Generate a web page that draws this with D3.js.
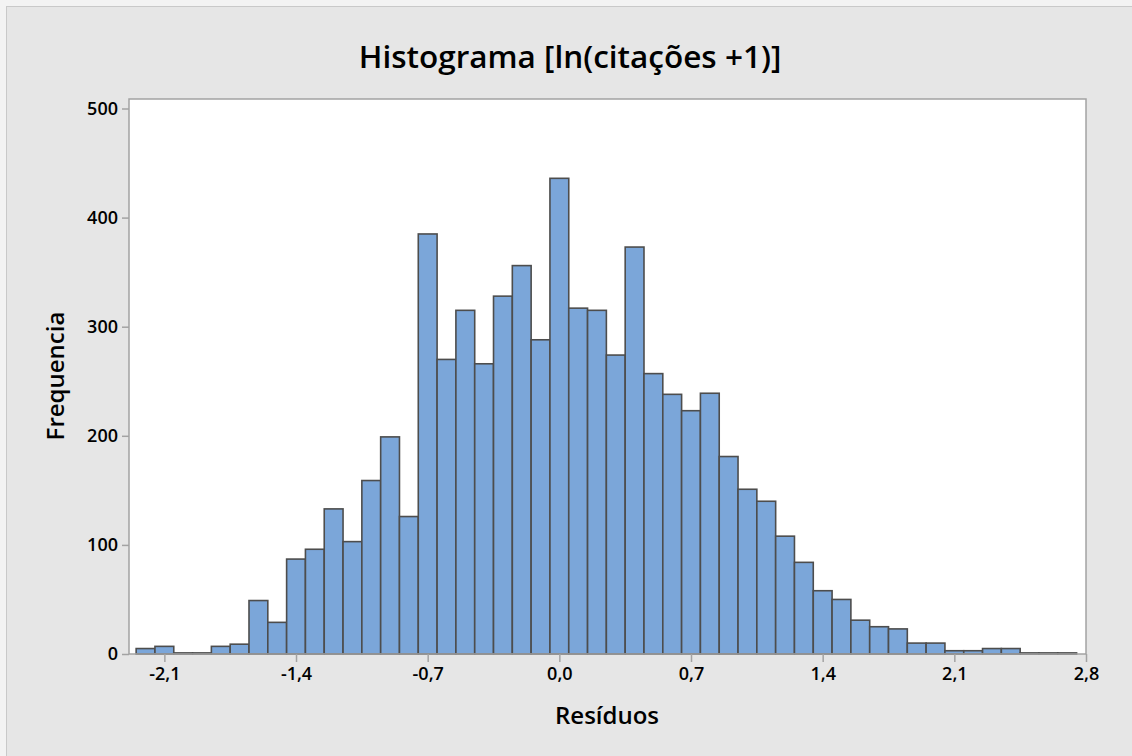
<!DOCTYPE html>
<html>
<head>
<meta charset="utf-8">
<script src="https://cdn.jsdelivr.net/npm/d3@7"></script>
<style>
  body { margin: 0; background: #f3f3f3; }
  svg text { font-family: "Open Sans", "Noto Sans", sans-serif; fill: #000; }
</style>
</head>
<body>
<svg id="hist" width="1132" height="756"></svg>
<script>
// bin centres (width 0.1) and counts
var binCenters = [-2.2, -2.1, -2.0, -1.9, -1.8, -1.7, -1.6, -1.5, -1.4, -1.3,
                  -1.2, -1.1, -1.0, -0.9, -0.8, -0.7, -0.6, -0.5, -0.4, -0.3,
                  -0.2, -0.1, 0.0, 0.1, 0.2, 0.3, 0.4, 0.5, 0.6, 0.7,
                  0.8, 0.9, 1.0, 1.1, 1.2, 1.3, 1.4, 1.5, 1.6, 1.7,
                  1.8, 1.9, 2.0, 2.1, 2.2, 2.3, 2.4, 2.5, 2.6, 2.7];
var counts = [5, 7, 1, 1, 7, 9, 49, 29, 87, 96,
              133, 103, 159, 199, 126, 385, 270, 315, 266, 328,
              356, 288, 436, 317, 315, 274, 373, 257, 238, 223,
              239, 181, 151, 140, 108, 84, 58, 50, 31, 25,
              23, 10, 10, 3, 3, 5, 5, 1, 1, 1];
var xTicks = [-2.1, -1.4, -0.7, 0.0, 0.7, 1.4, 2.1, 2.8];
var yTicks = [0, 100, 200, 300, 400, 500];
var binWidth = 0.1;

var svg = d3.select("#hist");

// outer panel
svg.append("rect")
    .attr("x", 6.5).attr("y", 6.5)
    .attr("width", 1140).attr("height", 760)
    .attr("fill", "#e6e6e6")
    .attr("stroke", "#c9c9c9");

var margin = { top: 99, right: 46, bottom: 102, left: 129 },
    width = 1132 - margin.left - margin.right,
    height = 756 - margin.top - margin.bottom;

var g = svg.append("g")
    .attr("transform", "translate(" + margin.left + "," + margin.top + ")");

var x = d3.scaleLinear().domain([-2.288, 2.8]).range([0, width]);
var y = d3.scaleLinear().domain([0, 500]).range([height, height - 545.5]);

g.append("rect")
    .attr("width", width).attr("height", height)
    .attr("fill", "#fff");

g.selectAll(".bar")
    .data(binCenters)
    .enter().append("rect")
    .attr("class", "bar")
    .attr("x", function (d) { return x(d - binWidth / 2); })
    .attr("width", function (d) { return x(d + binWidth / 2) - x(d - binWidth / 2); })
    .attr("y", function (d, i) { return y(counts[i]); })
    .attr("height", function (d, i) { return height - y(counts[i]); })
    .attr("fill", "#7ba6d9")
    .attr("stroke", "#4d4d4d")
    .attr("stroke-width", 1.6);

// frame
g.append("rect")
    .attr("width", width).attr("height", height)
    .attr("fill", "none")
    .attr("stroke", "#a3a3a3")
    .attr("stroke-width", 1.5);

var xAxis = g.append("g")
    .attr("transform", "translate(0," + height + ")")
    .call(d3.axisBottom(x).tickValues(xTicks).tickSize(8).tickPadding(5)
        .tickFormat(function (d) { return d3.format(".1f")(d).replace(".", ",").replace("−", "-"); }));

var yAxis = g.append("g")
    .call(d3.axisLeft(y).tickValues(yTicks).tickSize(7).tickPadding(4));

[xAxis, yAxis].forEach(function (a) {
    a.select(".domain").remove();
    a.selectAll(".tick line").attr("stroke", "#a3a3a3").attr("stroke-width", 1.5);
    a.selectAll(".tick text")
        .style("font-family", "'Open Sans', sans-serif")
        .style("font-size", "18px")
        .style("font-weight", 600)
        .attr("fill", "#000");
});

svg.append("text")
    .attr("x", 570).attr("y", 68)
    .attr("text-anchor", "middle")
    .style("font-size", "31.5px")
    .style("font-weight", 600)
    .text("Histograma [ln(citações +1)]");

svg.append("text")
    .attr("x", 607).attr("y", 724)
    .attr("text-anchor", "middle")
    .style("font-size", "24px")
    .style("font-weight", 600)
    .text("Resíduos");

svg.append("text")
    .attr("transform", "translate(64,376) rotate(-90)")
    .attr("text-anchor", "middle")
    .style("font-size", "24px")
    .style("font-weight", 600)
    .text("Frequencia");
</script>
</body>
</html>
